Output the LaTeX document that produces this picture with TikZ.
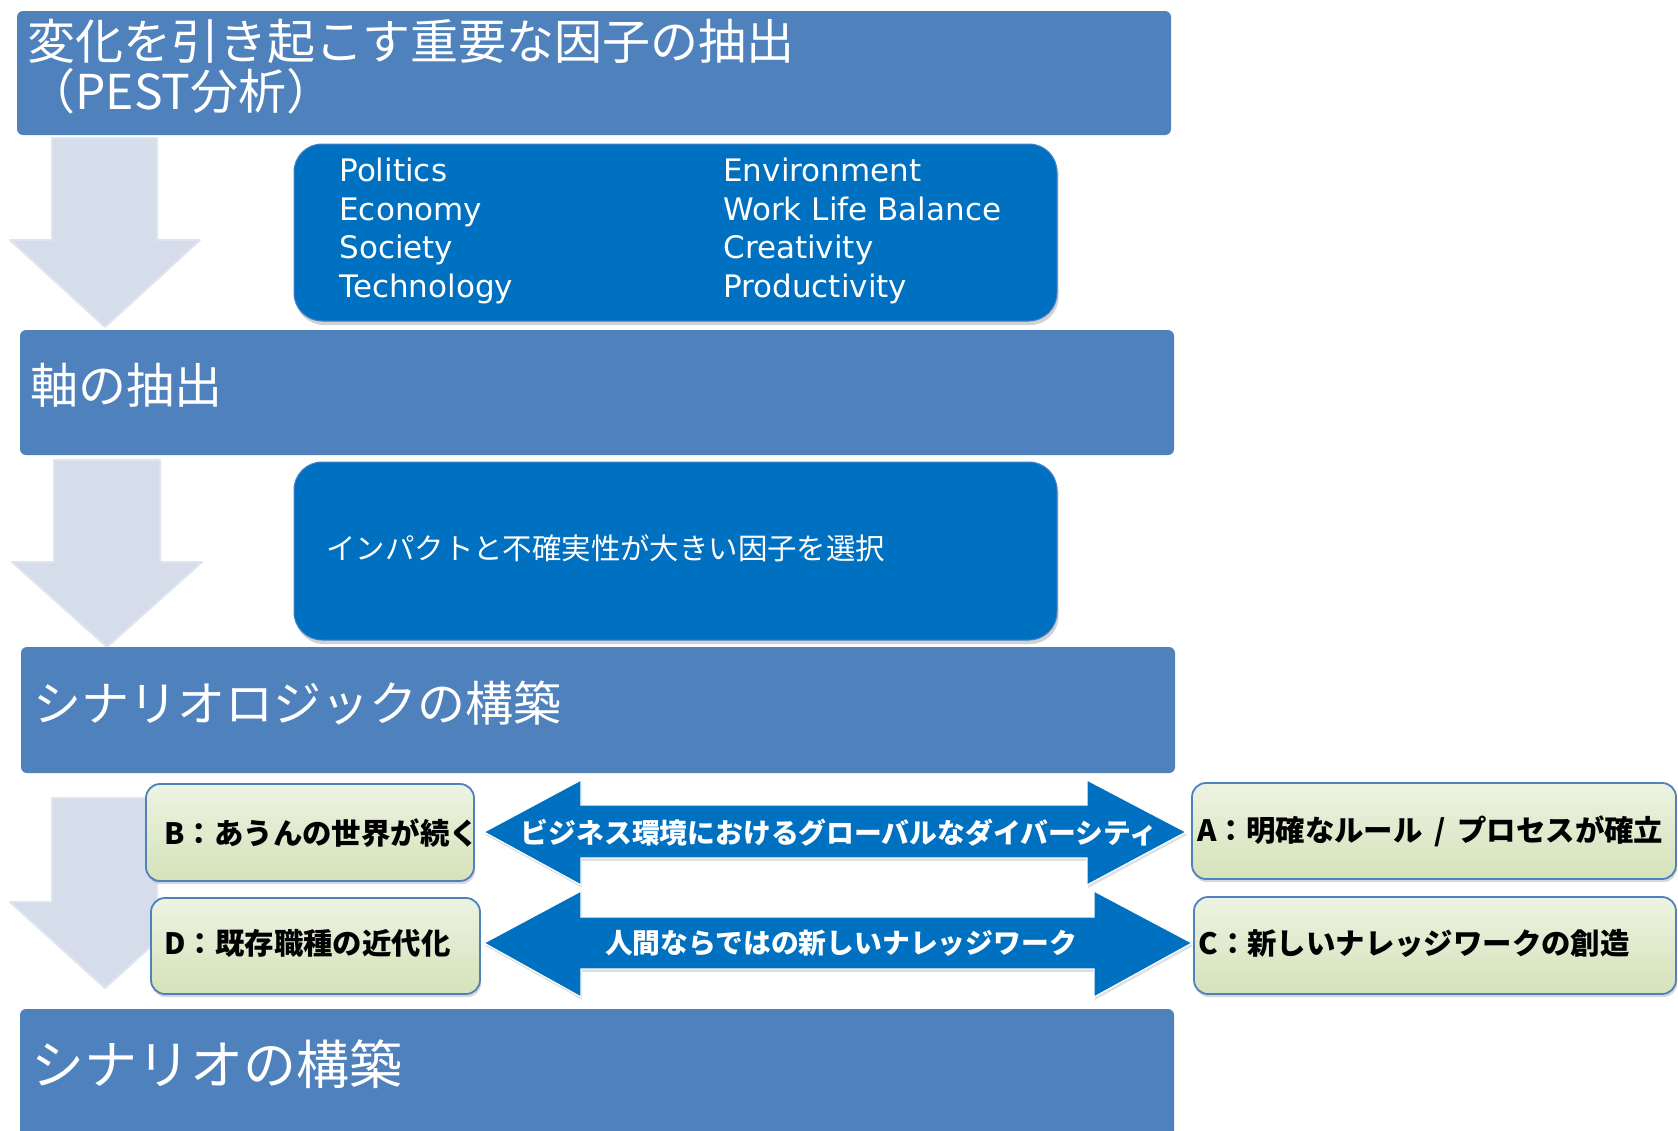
\documentclass[tikz,border=0pt]{standalone}
\usepackage{fontspec}
\setmainfont{DejaVu Sans}
\newfontfamily\jp{Noto Sans CJK JP}
\usetikzlibrary{fit,shadows}
\definecolor{bigblue}{RGB}{79,129,189}
\definecolor{innerblue}{RGB}{0,112,192}
\definecolor{innerline}{RGB}{70,130,200}
\definecolor{arrowgray}{RGB}{213,220,234}
\definecolor{arrowline}{RGB}{222,228,240}
\definecolor{greentop}{RGB}{237,243,226}
\definecolor{greenbot}{RGB}{213,226,186}
\definecolor{greenedge}{RGB}{79,129,189}
\begin{document}
\begin{tikzpicture}[x=0.5pt,y=-0.5pt,
  bigbox/.style={fill=bigblue, draw=none, rounded corners=3pt, inner sep=0pt},
  innerbox/.style={fill=innerblue, draw=innerline, line width=0.5pt, rounded corners=14pt, inner sep=0pt,
    drop shadow={opacity=0.35, shadow xshift=0.8pt, shadow yshift=-2pt}},
  greenbox/.style={top color=greentop, bottom color=greenbot, draw=greenedge, line width=0.9pt,
    rounded corners=7pt, inner sep=0pt, drop shadow={opacity=0.3, shadow xshift=0.6pt, shadow yshift=-1.6pt}},
  downarrow/.style={fill=arrowgray, draw=arrowline, line width=1pt, line join=round},
  dblarrow/.style={fill=innerblue, draw=white, line width=0.6pt, line join=miter,
    drop shadow={opacity=0.25, shadow xshift=0.6pt, shadow yshift=-1.4pt}},
  bigtxt/.style={text=white, font=\jp\fontsize{24}{29}\selectfont, inner sep=0pt, anchor=west},
  listtxt/.style={text=white, font=\fontsize{15.5}{19}\selectfont, inner sep=0pt, anchor=base west},
  midtxt/.style={text=white, font=\jp\fontsize{14.7}{18}\selectfont, inner sep=0pt, anchor=west},
  greentxt/.style={text=black, font=\jp\bfseries\fontsize{14.7}{18}\selectfont, inner sep=0pt, anchor=west},
  arrtxt/.style={text=white, font=\jp\bfseries\fontsize{13.9}{17}\selectfont, inner sep=0pt}
]
\useasboundingbox (0,0) rectangle (1678,1131);
\fill[white] (0,0) rectangle (1678,1131);
\clip (0,0) rectangle (1678,1131);

% down arrows
\draw[downarrow] (52,138) -- (157,138) -- (157,240) -- (200,240) -- (105,327) -- (10,240) -- (52,240) -- cycle;
\draw[downarrow] (54,460) -- (160,460) -- (160,562) -- (202,562) -- (107,647) -- (12,562) -- (54,562) -- cycle;
\draw[downarrow] (52,798) -- (157,798) -- (157,902) -- (200,902) -- (105,988) -- (10,902) -- (52,902) -- cycle;

% big boxes
\node[bigbox, fit={(17,11) (1171,135)}] (b1) {};
\node[bigbox, fit={(20,330) (1174,455)}] (b2) {};
\node[bigbox, fit={(21,647) (1175,773)}] (b3) {};
\node[bigbox, fit={(20,1009) (1174,1150)}] (b4) {};

% inner boxes
\node[innerbox, fit={(294,144) (1057,321)}] (i1) {};
\node[innerbox, fit={(294,462) (1057,640)}] (i2) {};

% double arrows
\draw[dblarrow] (484,832) -- (581,780) -- (581,805) -- (1087,805) -- (1087,780) -- (1186,832)
  -- (1087,885) -- (1087,858) -- (581,858) -- (581,885) -- cycle;
\draw[dblarrow] (484,943) -- (581,891) -- (581,917) -- (1094,917) -- (1094,891) -- (1192,943)
  -- (1094,997) -- (1094,969) -- (581,969) -- (581,997) -- cycle;

% green boxes
\node[greenbox, fit={(146,784) (474,881)}] (gB) {};
\node[greenbox, fit={(151,898) (480,994)}] (gD) {};
\node[greenbox, fit={(1192,783) (1676,879)}] (gA) {};
\node[greenbox, fit={(1194,897) (1676,994)}] (gC) {};

% texts
\node[bigtxt] (t1a) at (27,41) {変化を引き起こす重要な因子の抽出};
\node[bigtxt] (t1b) at (27,91) {（PEST分析）};
\node[bigtxt] (t2) at (30,385) {軸の抽出};
\node[bigtxt] (t3) at (33,703) {シナリオロジックの構築};
\node[bigtxt, font=\jp\fontsize{26.5}{31}\selectfont] (t4) at (31,1064) {シナリオの構築};

\node[listtxt] (p1) at (339,181) {Politics};
\node[listtxt] (p2) at (339,220) {Economy};
\node[listtxt] (p3) at (339,258) {Society};
\node[listtxt] (p4) at (339,297) {Technology};
\node[listtxt] (q1) at (723,181) {Environment};
\node[listtxt] (q2) at (723,220) {Work Life Balance};
\node[listtxt] (q3) at (723,258) {Creativity};
\node[listtxt] (q4) at (723,297) {Productivity};

\node[midtxt] (m1) at (326,548) {インパクトと不確実性が大きい因子を選択};

\node[arrtxt] (a1) at (839,833) {ビジネス環境におけるグローバルなダイバーシティ};
\node[arrtxt] (a2) at (841,943) {人間ならではの新しいナレッジワーク};

\node[greentxt] (tB) at (164,833) {B：あうんの世界が続く};
\node[greentxt] (tD) at (164,943) {D：既存職種の近代化};
\node[greentxt] (tA) at (1197,831) {A：明確なルール\hspace{0.4em}/\hspace{0.4em}プロセスが確立};
\node[greentxt] (tC) at (1198,943) {C：新しいナレッジワークの創造};
\end{tikzpicture}
\end{document}
